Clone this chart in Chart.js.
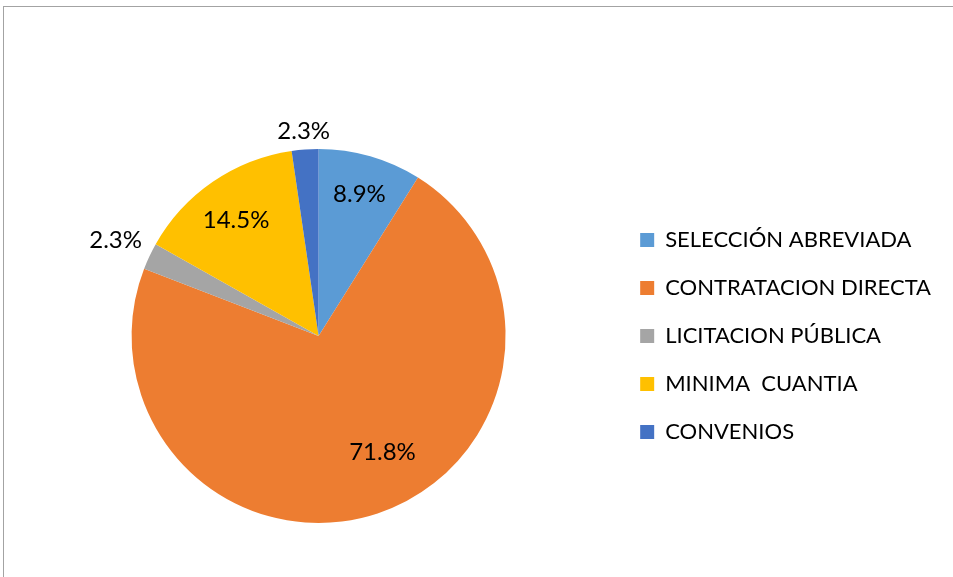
<!DOCTYPE html>
<html>
<head>
<meta charset="utf-8">
<script src="https://cdn.jsdelivr.net/npm/chart.js@4"></script>
<style>
  html, body { margin: 0; padding: 0; background: #fff; overflow: hidden; }
  #wrap { position: relative; width: 953px; height: 577px; }
  #frame { position: absolute; left: 3px; top: 6px; width: 2000px; height: 2000px;
           border-left: 1px solid #a3a3a3; border-top: 1px solid #a3a3a3; }
  canvas { position: absolute; left: 0; top: 0; }
</style>
</head>
<body>
<div id="wrap">
  <div id="frame"></div>
  <canvas id="pieChart" width="953" height="577"></canvas>
</div>
<script>
// Data
const categories = ['SELECCIÓN ABREVIADA', 'CONTRATACION DIRECTA', 'LICITACION PÚBLICA', 'MINIMA  CUANTIA', 'CONVENIOS'];
const shares = [8.9, 71.8, 2.3, 14.5, 2.3];
const sliceColors = ['#5B9BD5', '#ED7D31', '#A5A5A5', '#FFC000', '#4472C4'];

// label placement (fraction of radius, fraction along the slice)
const labelRadius = [0.79, 0.71, 1.2, 0.76, 1.1];
const labelAngle = [0.5, 0.46, 0.5, 0.48, 0.5];

const FONT = 'Lato, "Liberation Sans", sans-serif';

const sliceLabels = {
    id: 'sliceLabels',
    afterDatasetsDraw(chart) {
        const ctx = chart.ctx;
        const arcs = chart.getDatasetMeta(0).data;
        ctx.save();
        ctx.font = '24px ' + FONT;
        ctx.fillStyle = '#000';
        ctx.textAlign = 'center';
        ctx.textBaseline = 'middle';
        arcs.forEach((arc, i) => {
            const a = arc.startAngle + (arc.endAngle - arc.startAngle) * labelAngle[i];
            const r = arc.outerRadius * labelRadius[i];
            ctx.fillText(shares[i].toFixed(1) + '%', arc.x + Math.cos(a) * r, arc.y + Math.sin(a) * r);
        });
        ctx.restore();
    }
};

const ctx = document.getElementById('pieChart').getContext('2d');
new Chart(ctx, {
    type: 'pie',
    data: {
        labels: categories,
        datasets: [{
            data: shares,
            backgroundColor: sliceColors,
            borderWidth: 0
        }]
    },
    options: {
        responsive: false,
        animation: false,
        layout: { padding: { top: 149, bottom: 54, left: 23, right: 12 } },
        plugins: {
            tooltip: { enabled: false },
            legend: {
                position: 'right',
                labels: {
                    boxWidth: 14,
                    boxHeight: 14,
                    padding: 26,
                    color: '#000',
                    font: { family: FONT, size: 22 }
                }
            }
        }
    },
    plugins: [sliceLabels]
});
</script>
</body>
</html>
